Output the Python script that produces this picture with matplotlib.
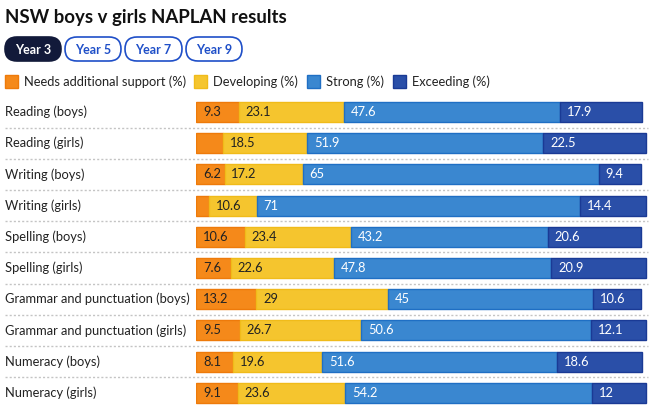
import matplotlib
matplotlib.use("Agg")
import matplotlib.pyplot as plt
from matplotlib.patches import FancyBboxPatch, Rectangle
import numpy as np

plt.rcParams['font.family'] = ['Lato', 'DejaVu Sans']

title = "NSW boys v girls NAPLAN results"
buttons = ["Year 3", "Year 5", "Year 7", "Year 9"]
series = ["Needs additional support (%)", "Developing (%)", "Strong (%)", "Exceeding (%)"]
rows = ["Reading (boys)", "Reading (girls)", "Writing (boys)", "Writing (girls)",
        "Spelling (boys)", "Spelling (girls)", "Grammar and punctuation (boys)",
        "Grammar and punctuation (girls)", "Numeracy (boys)", "Numeracy (girls)"]
needs = [9.3, 5.8, 6.2, 2.7, 10.6, 7.6, 13.2, 9.5, 8.1, 9.1]
developing = [23.1, 18.5, 17.2, 10.6, 23.4, 22.6, 29, 26.7, 19.6, 23.6]
strong = [47.6, 51.9, 65, 71, 43.2, 47.8, 45, 50.6, 51.6, 54.2]
exceeding = [17.9, 22.5, 9.4, 14.4, 20.6, 20.9, 10.6, 12.1, 18.6, 12]

colors = ["#f5891a", "#f5c52e", "#3a87d0", "#2a4fa8"]
edges = ["#ee7a0a", "#f0bb1a", "#1f6fc4", "#1a3a95"]
text_cols = ["#222222", "#222222", "white", "white"]

W, H = 652, 412
fig = plt.figure(figsize=(W / 100, H / 100), dpi=100)

# background axes in pixel coords
bg = fig.add_axes([0, 0, 1, 1])
bg.set_xlim(0, W)
bg.set_ylim(H, 0)
bg.axis("off")

bg.text(5, 17, title, fontsize=13.4, fontweight="bold", color="#111111", va="center", ha="left")

btn_x = [5, 65, 125, 186]
btn_w = [56, 56, 57, 56]
for i, (b, x, w) in enumerate(zip(buttons, btn_x, btn_w)):
    active = i == 0
    p = FancyBboxPatch((x, 37), w, 24, boxstyle="round,pad=0,rounding_size=12",
                       fc="#121a3a" if active else "white",
                       ec="#121a3a" if active else "#1f4fc8", lw=1.2)
    bg.add_patch(p)
    bg.text(x + w / 2, 49.5, b, fontsize=9, fontweight="bold",
            color="white" if active else "#1f4fc8", ha="center", va="center")

leg_x = [5, 194, 307, 393]
for s, x, c, e in zip(series, leg_x, colors, edges):
    bg.add_patch(Rectangle((x, 75), 13, 13, fc=c, ec=e, lw=1))
    bg.text(x + 19, 81.5, s, fontsize=9.3, color="#222222", ha="left", va="center")

row0, step = 112, 31.2
for i, r in enumerate(rows):
    yc = row0 + step * i
    bg.text(5, yc, r, fontsize=9.3, color="#222222", ha="left", va="center")
    if i < len(rows) - 1:
        bg.plot([5, 648], [yc + step / 2, yc + step / 2], color="#c4c4c4",
                lw=1, ls=(0, (1.5, 1.5)))

# bar axes
x0, x1 = 196.3, 651.5
top_px = row0 - step / 2
bot_px = row0 + step * (len(rows) - 0.5)
ax = fig.add_axes([x0 / W, 1 - bot_px / H, (x1 - x0) / W, (bot_px - top_px) / H])
ax.set_xlim(0, 100)
ax.set_ylim(len(rows) - 0.5, -0.5)
ax.axis("off")

y = np.arange(len(rows))
left = np.zeros(len(rows))
for vals, c, e, tc in zip([needs, developing, strong, exceeding], colors, edges, text_cols):
    vals = np.array(vals, dtype=float)
    ax.barh(y, vals, left=left, height=0.64, color=c, edgecolor=e, linewidth=1)
    for yi, l, v in zip(y, left, vals):
        if v >= 6:
            ax.text(l + 1.5, yi, f"{v:g}", fontsize=9.3, color=tc, ha="left", va="center")
    left += vals

fig.savefig("out.png", dpi=100)
